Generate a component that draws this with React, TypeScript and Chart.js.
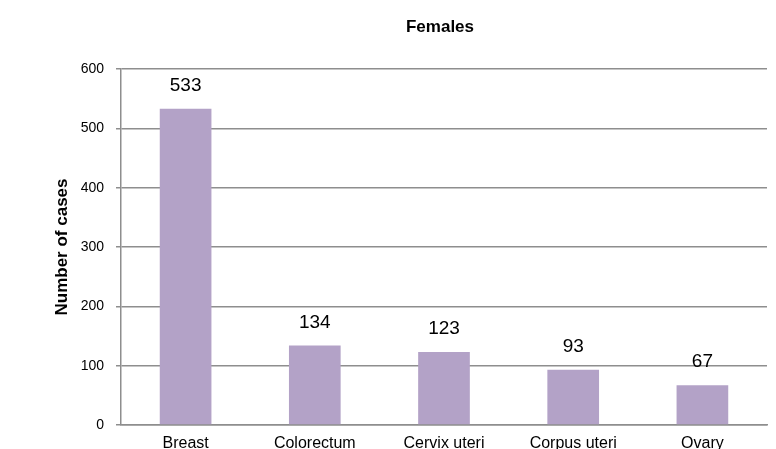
import React, { useEffect, useRef } from "react";
import { Chart, registerables } from "chart.js";

Chart.register(...registerables);

const categories = ["Breast", "Colorectum", "Cervix uteri", "Corpus uteri", "Ovary"];
const cases = [533, 134, 123, 93, 67];
const yTicks = [0, 100, 200, 300, 400, 500, 600];
const chartTitle = "Females";
const yTitle = "Number of cases";

const FONT = "'Liberation Sans', Arial, sans-serif";
const GRID = "#8e8e8e";
const BAR = "#b3a2c7";

export default function App() {
  const ref = useRef<HTMLCanvasElement | null>(null);

  useEffect(() => {
    if (!ref.current) return;
    const titlePlugin = {
      id: "customTitle",
      afterDraw(chart: any) {
        const { ctx, chartArea } = chart;
        ctx.save();
        ctx.font = `bold 17px ${FONT}`;
        ctx.fillStyle = "#000";
        ctx.textAlign = "center";
        ctx.textBaseline = "middle";
        ctx.fillText(chartTitle, (chartArea.left + chartArea.right) / 2 - 4, 27);
        ctx.restore();
      },
    };
    const labelPlugin = {
      id: "valueLabels",
      afterDatasetsDraw(chart: any) {
        const { ctx } = chart;
        const meta = chart.getDatasetMeta(0);
        ctx.save();
        ctx.font = `19px ${FONT}`;
        ctx.fillStyle = "#000";
        ctx.textAlign = "center";
        ctx.textBaseline = "middle";
        meta.data.forEach((bar: any, i: number) => {
          ctx.fillText(String(cases[i]), bar.x, bar.y - 23);
        });
        ctx.restore();
      },
    };
    const chart = new Chart(ref.current, {
      type: "bar",
      data: {
        labels: categories,
        datasets: [
          {
            data: cases,
            backgroundColor: BAR,
            borderWidth: 0,
            categoryPercentage: 1,
            barPercentage: 0.4,
          },
        ],
      },
      options: {
        responsive: false,
        animation: false,
        layout: { padding: { top: 69, right: 9, left: 0, bottom: 0 } },
        plugins: {
          legend: { display: false },
          title: { display: false },
          tooltip: { enabled: false },
        },
        scales: {
          x: {
            grid: { display: false, drawTicks: false, tickLength: 0 },
            border: { display: true, color: GRID, width: 1.5 },
            ticks: { color: "#000", font: { family: FONT, size: 16 }, padding: 9, maxRotation: 0 },
            afterFit(scale: any) {
              scale.height = 24;
            },
          },
          y: {
            min: 0,
            max: 600,
            afterBuildTicks(scale: any) {
              scale.ticks = yTicks.map((v) => ({ value: v }));
            },
            grid: { color: GRID, lineWidth: 1.5, tickLength: 5, drawTicks: true },
            border: { display: true, color: GRID, width: 1.5 },
            ticks: { color: "#000", font: { family: FONT, size: 14 }, padding: 12 },
            title: {
              display: true,
              text: yTitle,
              color: "#000",
              font: { family: FONT, size: 17, weight: "bold" },
              padding: { top: 52, bottom: 0 },
            },
            afterFit(scale: any) {
              scale.width = 121;
            },
          },
        },
      },
      plugins: [titlePlugin, labelPlugin],
    });
    return () => chart.destroy();
  }, []);

  return (
    <div style={{ position: "absolute", left: 0, top: 0, width: 776, height: 449, background: "#fff" }}>
      <canvas ref={ref} width={776} height={449} style={{ width: 776, height: 449, display: "block" }} />
    </div>
  );
}
